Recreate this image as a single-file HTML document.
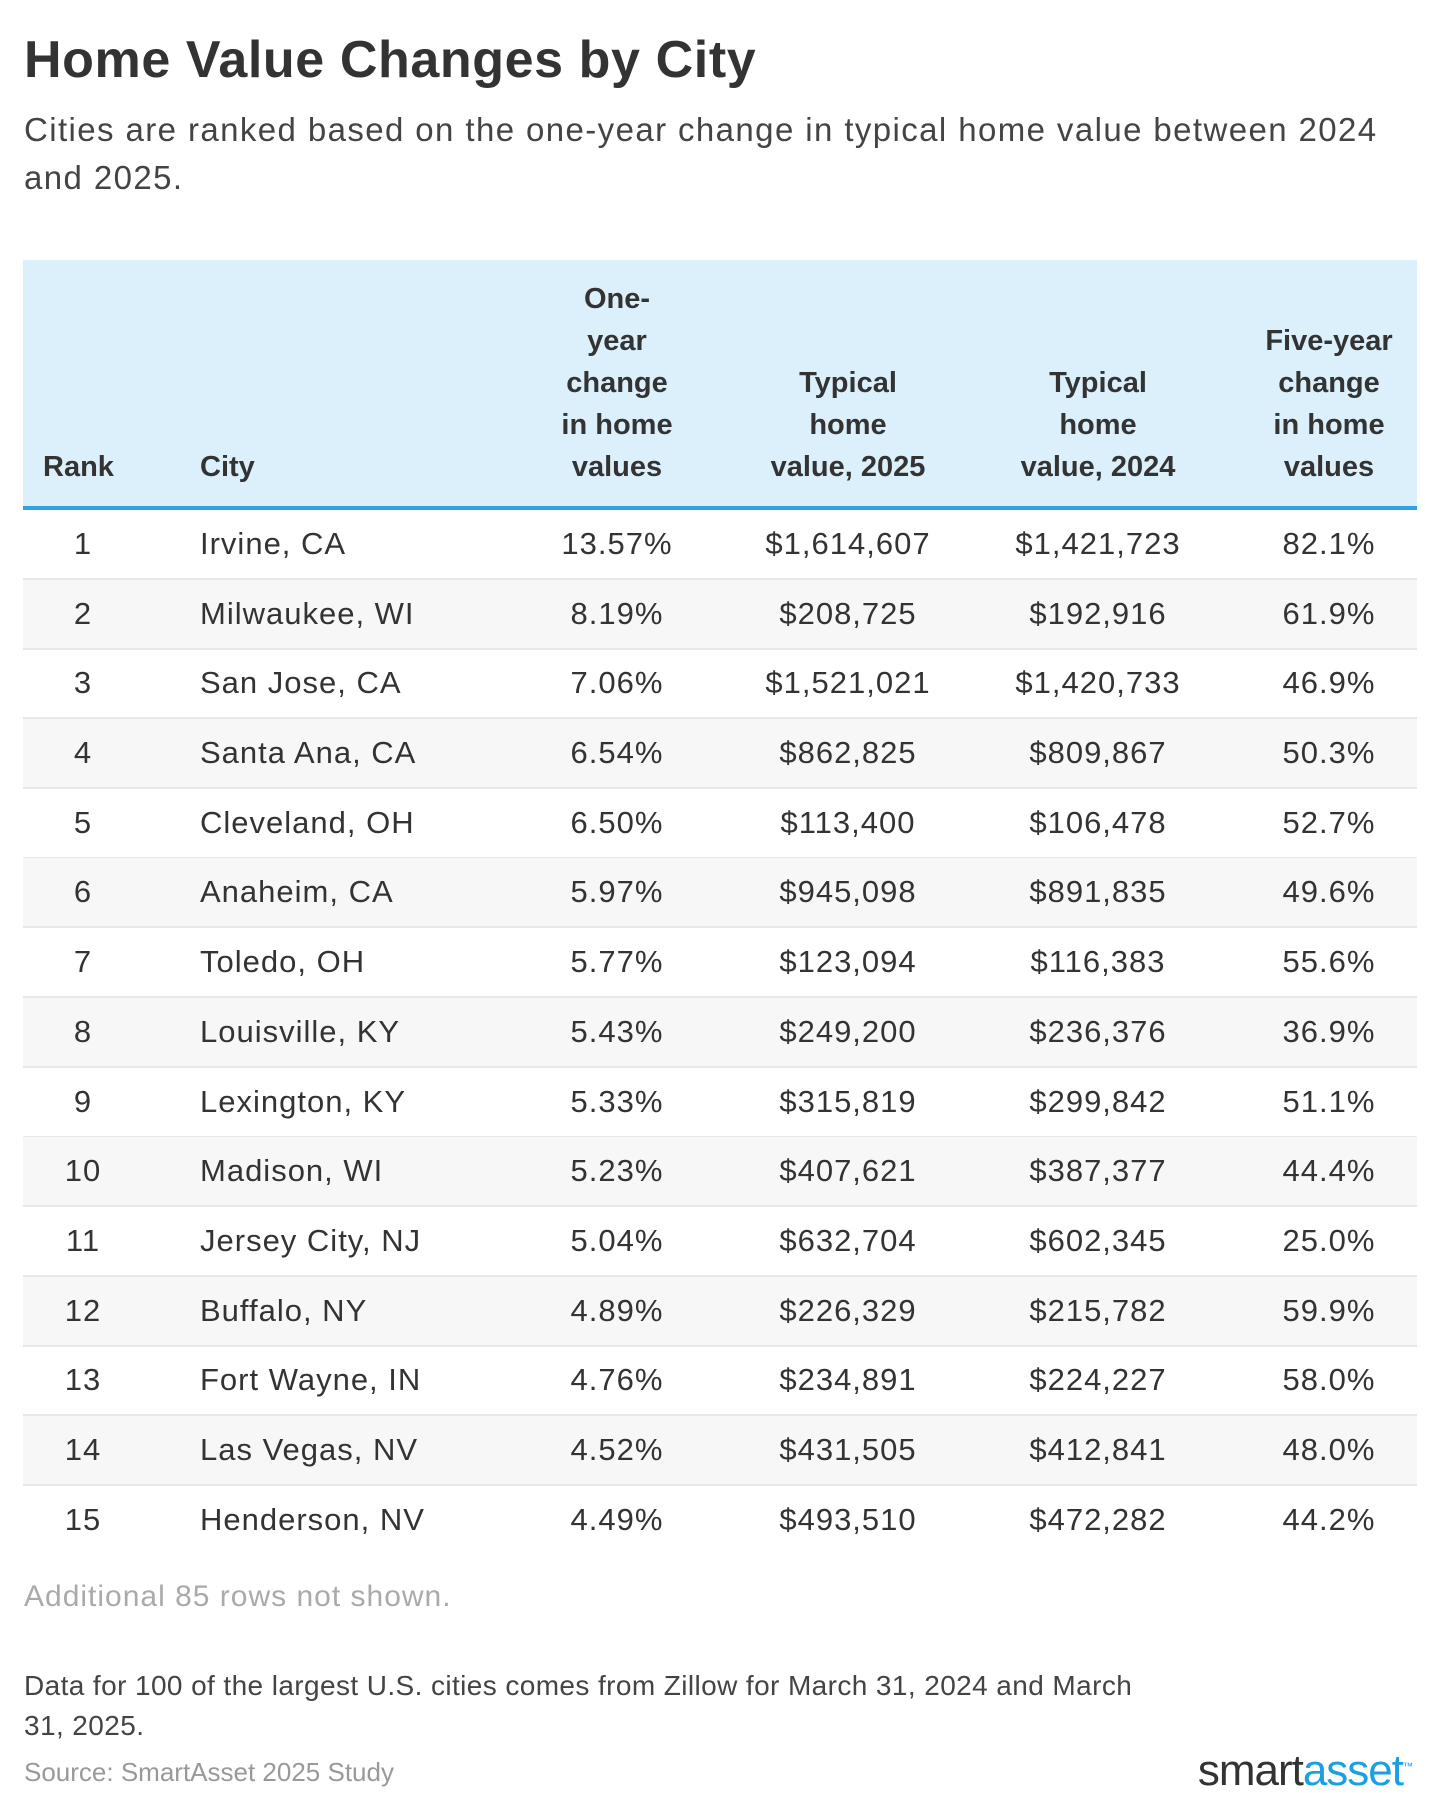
<!DOCTYPE html>
<html><head><meta charset="utf-8">
<style>
html,body{margin:0;padding:0;background:#fff;}
body{width:1440px;height:1814px;position:relative;font-family:"Liberation Sans",sans-serif;color:#333;overflow:hidden;}
.abs{position:absolute;white-space:nowrap;}
h1{position:absolute;left:24px;top:30px;margin:0;font-size:52px;font-weight:bold;color:#333;letter-spacing:0.6px;white-space:nowrap;}
.sub{position:absolute;left:24px;top:106px;font-size:33px;letter-spacing:1.4px;line-height:48px;color:#444;width:1410px;white-space:nowrap;}
.hdr{position:absolute;left:23px;top:260px;width:1394px;height:246px;background:#dcf0fc;border-bottom:4px solid #2ea3e0;}
.hc{position:absolute;bottom:18px;font-size:29px;font-weight:bold;line-height:42px;text-align:center;color:#333;}
.row{position:absolute;left:23px;width:1394px;height:68px;border-bottom:2px solid #e8e8e8;}
.g{background:#f7f7f7;}
.c{position:absolute;top:0;line-height:68px;font-size:31px;letter-spacing:1px;color:#333;white-space:nowrap;}
.r{left:0;width:120px;text-align:center;}
.t{left:177px;}
.a{left:494px;width:200px;text-align:center;}
.b{left:725px;width:200px;text-align:center;}
.d{left:975px;width:200px;text-align:center;}
.e{left:1206px;width:200px;text-align:center;}
.foot{position:absolute;left:24px;font-size:28px;letter-spacing:0.4px;color:#444;line-height:40px;white-space:nowrap;}
</style></head><body>
<h1>Home Value Changes by City</h1>
<div class="sub">Cities are ranked based on the one-year change in typical home value between 2024<br>and 2025.</div>
<div class="hdr">
<div class="hc" style="left:20px;width:80px;text-align:left;">Rank</div>
<div class="hc" style="left:177px;text-align:left;">City</div>
<div class="hc" style="left:514px;width:160px;">One-<br>year<br>change<br>in home<br>values</div>
<div class="hc" style="left:735px;width:180px;">Typical<br>home<br>value, 2025</div>
<div class="hc" style="left:985px;width:180px;">Typical<br>home<br>value, 2024</div>
<div class="hc" style="left:1226px;width:160px;">Five-year<br>change<br>in home<br>values</div>
</div>

<div class="row" style="top:510px;"><div class="c r">1</div><div class="c t">Irvine, CA</div><div class="c a">13.57%</div><div class="c b">$1,614,607</div><div class="c d">$1,421,723</div><div class="c e">82.1%</div></div>
<div class="row g" style="top:580px;"><div class="c r">2</div><div class="c t">Milwaukee, WI</div><div class="c a">8.19%</div><div class="c b">$208,725</div><div class="c d">$192,916</div><div class="c e">61.9%</div></div>
<div class="row" style="top:649px;"><div class="c r">3</div><div class="c t">San Jose, CA</div><div class="c a">7.06%</div><div class="c b">$1,521,021</div><div class="c d">$1,420,733</div><div class="c e">46.9%</div></div>
<div class="row g" style="top:719px;"><div class="c r">4</div><div class="c t">Santa Ana, CA</div><div class="c a">6.54%</div><div class="c b">$862,825</div><div class="c d">$809,867</div><div class="c e">50.3%</div></div>
<div class="row" style="top:789px;"><div class="c r">5</div><div class="c t">Cleveland, OH</div><div class="c a">6.50%</div><div class="c b">$113,400</div><div class="c d">$106,478</div><div class="c e">52.7%</div></div>
<div class="row g" style="top:858px;"><div class="c r">6</div><div class="c t">Anaheim, CA</div><div class="c a">5.97%</div><div class="c b">$945,098</div><div class="c d">$891,835</div><div class="c e">49.6%</div></div>
<div class="row" style="top:928px;"><div class="c r">7</div><div class="c t">Toledo, OH</div><div class="c a">5.77%</div><div class="c b">$123,094</div><div class="c d">$116,383</div><div class="c e">55.6%</div></div>
<div class="row g" style="top:998px;"><div class="c r">8</div><div class="c t">Louisville, KY</div><div class="c a">5.43%</div><div class="c b">$249,200</div><div class="c d">$236,376</div><div class="c e">36.9%</div></div>
<div class="row" style="top:1068px;"><div class="c r">9</div><div class="c t">Lexington, KY</div><div class="c a">5.33%</div><div class="c b">$315,819</div><div class="c d">$299,842</div><div class="c e">51.1%</div></div>
<div class="row g" style="top:1137px;"><div class="c r">10</div><div class="c t">Madison, WI</div><div class="c a">5.23%</div><div class="c b">$407,621</div><div class="c d">$387,377</div><div class="c e">44.4%</div></div>
<div class="row" style="top:1207px;"><div class="c r">11</div><div class="c t">Jersey City, NJ</div><div class="c a">5.04%</div><div class="c b">$632,704</div><div class="c d">$602,345</div><div class="c e">25.0%</div></div>
<div class="row g" style="top:1277px;"><div class="c r">12</div><div class="c t">Buffalo, NY</div><div class="c a">4.89%</div><div class="c b">$226,329</div><div class="c d">$215,782</div><div class="c e">59.9%</div></div>
<div class="row" style="top:1346px;"><div class="c r">13</div><div class="c t">Fort Wayne, IN</div><div class="c a">4.76%</div><div class="c b">$234,891</div><div class="c d">$224,227</div><div class="c e">58.0%</div></div>
<div class="row g" style="top:1416px;"><div class="c r">14</div><div class="c t">Las Vegas, NV</div><div class="c a">4.52%</div><div class="c b">$431,505</div><div class="c d">$412,841</div><div class="c e">48.0%</div></div>
<div class="row" style="top:1486px;border-bottom:none;"><div class="c r">15</div><div class="c t">Henderson, NV</div><div class="c a">4.49%</div><div class="c b">$493,510</div><div class="c d">$472,282</div><div class="c e">44.2%</div></div>

<div class="abs" style="left:24px;top:1580px;font-size:30px;letter-spacing:1px;color:#aaa;">Additional 85 rows not shown.</div>
<div class="foot" style="top:1666px;">Data for 100 of the largest U.S. cities comes from Zillow for March 31, 2024 and March<br>31, 2025.</div>
<div class="abs" style="left:24px;top:1757px;font-size:26px;letter-spacing:0px;color:#999;">Source: SmartAsset 2025 Study</div>
<div class="abs" style="right:28px;top:1746px;font-size:44px;letter-spacing:-1px;"><span style="color:#333;">smart</span><span style="color:#1a9fe0;">asset</span><sup style="font-size:10px;color:#1a9fe0;">™</sup></div>
</body></html>
